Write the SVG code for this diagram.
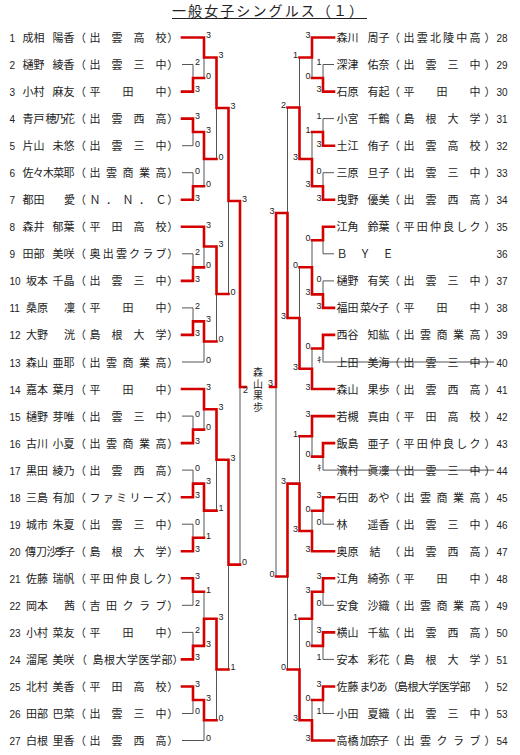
<svg xmlns="http://www.w3.org/2000/svg" width="520" height="755" viewBox="0 0 520 755">
<style>
.t{font-family:"Noto Sans CJK JP","Noto Sans CJK SC",sans-serif;font-size:11px;fill:#222}
.n{font-family:"Liberation Sans",Arial,sans-serif;font-size:10px}
.s{font-family:"Liberation Sans",Arial,sans-serif;font-size:9px;fill:#222}
.e{text-anchor:end}
.r{fill:none;stroke:#d40000;stroke-width:2.6;stroke-linejoin:miter;stroke-linecap:square}
.g{fill:none;stroke:#555;stroke-width:1}
</style>
<rect width="520" height="755" fill="#fff"/>
<g id="title">
<text class="t" x="172" y="16" style="font-size:14px" textLength="191" lengthAdjust="spacing">一般女子シングルス（１）</text>
<line x1="172" y1="18.5" x2="367" y2="18.5" stroke="#222" stroke-width="1"/>
</g>
<g id="connectors">
<path class="g" d="M182 64.5H193V78M182 145.7H193V132M182 172.7H193V186.2M182 253.8H193V267.4M182 307.9H193V321.4M182 362H204V341.5M182 416.1H193V429.6M182 470.1H193V483.6M182 524.2H193V537.7M182 605.3H193V591.8M182 632.4H193V645.9M182 713.5H193V700M182 740.5H204V720.2M204 78V57.5M204 186.2V159M216.5 159V108M204 267.4V246.5M216.5 341.5V294M228.5 294V201M204 429.6V409.3M204 537.7V510.6M216.5 510.6V459.8M204 591.8V618.8M216.5 720.2V669.5M228.5 669.5V564.6M240 564.6V387"/>
<path class="g" d="M334 64.5H323V78M334 118.6H323V132M334 172.7H323V186.2M334 253.8H323V240.3M334 280.9H323V294.4M494 362H323V348.5M494 470.1H323V456.6M334 524.2H323V510.7M334 605.3H323V591.8M334 659.4H323V645.9M334 713.5H323V700M312 78V57.5M312 132V159M299.5 57.5V107.5M312 240.3V267.3M312 348.5V368.7M299.5 267.3V318M287.5 107.5V213M312 456.6V436.3M312 510.7V531M299.5 436.3V483.6M312 645.9V618.8M312 700V720.2M299.5 618.8V669.5M287.5 669.5V576.5M276 576.5V387"/>
<polyline class="r" points="182,37.5 204,37.5 204,57.5 216.5,57.5 216.5,108 228.5,108 228.5,201 240,201 240,387 246,387"/>
<polyline class="r" points="182,91.6 193,91.6 193,78 204,78"/>
<polyline class="r" points="182,118.6 193,118.6 193,132 204,132 204,159 216.5,159"/>
<polyline class="r" points="182,199.7 193,199.7 193,186.2 204,186.2"/>
<polyline class="r" points="182,226.8 204,226.8 204,246.5 216.5,246.5 216.5,294 228.5,294"/>
<polyline class="r" points="182,280.9 193,280.9 193,267.4 204,267.4"/>
<polyline class="r" points="182,334.9 193,334.9 193,321.4 204,321.4 204,341.5 216.5,341.5"/>
<polyline class="r" points="182,389 204,389 204,409.3 216.5,409.3 216.5,459.8 228.5,459.8 228.5,564.6 240,564.6"/>
<polyline class="r" points="182,443.1 193,443.1 193,429.6 204,429.6"/>
<polyline class="r" points="182,497.2 193,497.2 193,483.6 204,483.6 204,510.6 216.5,510.6"/>
<polyline class="r" points="182,551.3 193,551.3 193,537.7 204,537.7"/>
<polyline class="r" points="182,578.3 193,578.3 193,591.8 204,591.8"/>
<polyline class="r" points="182,659.4 193,659.4 193,645.9 204,645.9 204,618.8 216.5,618.8 216.5,669.5 228.5,669.5"/>
<polyline class="r" points="182,686.5 193,686.5 193,700 204,700 204,720.2 216.5,720.2"/>
<polyline class="r" points="334,37.5 312,37.5 312,57.5 299.5,57.5"/>
<polyline class="r" points="334,91.6 323,91.6 323,78 312,78"/>
<polyline class="r" points="334,145.7 323,145.7 323,132 312,132"/>
<polyline class="r" points="334,199.7 323,199.7 323,186.2 312,186.2 312,159 299.5,159 299.5,107.5 287.5,107.5"/>
<polyline class="r" points="334,226.8 323,226.8 323,240.3 312,240.3"/>
<polyline class="r" points="334,307.9 323,307.9 323,294.4 312,294.4 312,267.3 299.5,267.3"/>
<polyline class="r" points="334,334.9 323,334.9 323,348.5 312,348.5"/>
<polyline class="r" points="334,389 312,389 312,368.7 299.5,368.7 299.5,318 287.5,318 287.5,213 276,213 276,387 270,387"/>
<polyline class="r" points="334,416.1 312,416.1 312,436.3 299.5,436.3"/>
<polyline class="r" points="334,443.1 323,443.1 323,456.6 312,456.6"/>
<polyline class="r" points="334,497.2 323,497.2 323,510.7 312,510.7"/>
<polyline class="r" points="334,551.3 312,551.3 312,531 299.5,531 299.5,483.6 287.5,483.6 287.5,576.5 276,576.5"/>
<polyline class="r" points="334,578.3 323,578.3 323,591.8 312,591.8 312,618.8 299.5,618.8"/>
<polyline class="r" points="334,632.4 323,632.4 323,645.9 312,645.9"/>
<polyline class="r" points="334,686.5 323,686.5 323,700 312,700"/>
<polyline class="r" points="334,740.5 312,740.5 312,720.2 299.5,720.2 299.5,669.5 287.5,669.5"/>
</g>
<g id="scores" class="s">
<text x="195" y="65.3">2</text><text x="195" y="92.4">3</text>
<text x="206" y="38.3">3</text><text x="206" y="78.8">0</text>
<text x="195" y="119.4">3</text><text x="195" y="146.5">0</text>
<text x="195" y="173.5">0</text><text x="195" y="200.5">3</text>
<text x="206" y="132.8">3</text><text x="206" y="187">0</text>
<text x="218.5" y="58.3">3</text><text x="218.5" y="159.8">0</text>
<text x="195" y="254.6">2</text><text x="195" y="281.7">3</text>
<text x="206" y="227.6">3</text><text x="206" y="268.2">0</text>
<text x="195" y="308.7">2</text><text x="195" y="335.7">3</text>
<text x="206" y="322.2">3</text><text x="206" y="362.8">0</text>
<text x="218.5" y="247.3">3</text><text x="218.5" y="342.3">0</text>
<text x="230.5" y="108.8">3</text><text x="230.5" y="294.8">0</text>
<text x="195" y="416.9">0</text><text x="195" y="443.9">3</text>
<text x="206" y="389.8">3</text><text x="206" y="430.4">0</text>
<text x="195" y="470.9">0</text><text x="195" y="498">3</text>
<text x="195" y="525">0</text><text x="195" y="552.1">3</text>
<text x="206" y="484.4">3</text><text x="206" y="538.5">1</text>
<text x="218.5" y="410.1">3</text><text x="218.5" y="511.4">1</text>
<text x="195" y="579.1">3</text><text x="195" y="606.1">2</text>
<text x="195" y="633.2">2</text><text x="195" y="660.2">3</text>
<text x="206" y="592.6">1</text><text x="206" y="646.7">3</text>
<text x="195" y="687.3">3</text><text x="195" y="714.3">0</text>
<text x="206" y="700.8">3</text><text x="206" y="741.3">0</text>
<text x="218.5" y="619.6">3</text><text x="218.5" y="721">0</text>
<text x="230.5" y="460.6">3</text><text x="230.5" y="670.3">1</text>
<text x="242" y="201.8">3</text><text x="242" y="565.4">0</text>
<text x="243" y="393">2</text>
<g class="e">
<text x="321.5" y="65.3">1</text><text x="321.5" y="92.4">3</text>
<text x="310.5" y="38.3">3</text><text x="310.5" y="78.8">0</text>
<text x="321.5" y="119.4">1</text><text x="321.5" y="146.5">3</text>
<text x="321.5" y="173.5">0</text><text x="321.5" y="200.5">3</text>
<text x="310.5" y="132.8">1</text><text x="310.5" y="187">3</text>
<text x="298" y="58.3">1</text><text x="298" y="159.8">3</text>
<text x="321.5" y="281.7">0</text><text x="321.5" y="308.7">3</text>
<text x="310.5" y="241.1">0</text><text x="310.5" y="295.2">3</text>
<text x="321.5" y="362.8" class="t" style="font-size:9px">ｷ</text>
<text x="310.5" y="349.3">0</text><text x="310.5" y="389.8">3</text>
<text x="298" y="268.1">0</text><text x="298" y="369.5">3</text>
<text x="286" y="108.3">2</text><text x="286" y="318.8">3</text>
<text x="321.5" y="470.9" class="t" style="font-size:9px">ｷ</text>
<text x="310.5" y="416.9">3</text><text x="310.5" y="457.4">0</text>
<text x="321.5" y="498">3</text><text x="321.5" y="525">0</text>
<text x="310.5" y="511.5">0</text><text x="310.5" y="552.1">3</text>
<text x="298" y="437.1">1</text><text x="298" y="531.8">3</text>
<text x="321.5" y="579.1">3</text><text x="321.5" y="606.1">0</text>
<text x="321.5" y="633.2">3</text><text x="321.5" y="660.2">1</text>
<text x="310.5" y="592.6">3</text><text x="310.5" y="646.7">0</text>
<text x="321.5" y="687.3">3</text><text x="321.5" y="714.3">1</text>
<text x="310.5" y="700.8">0</text><text x="310.5" y="741.3">3</text>
<text x="298" y="619.6">1</text><text x="298" y="721">3</text>
<text x="286" y="484.4">3</text><text x="286" y="670.3">0</text>
<text x="274.5" y="213.8">3</text><text x="274.5" y="577.3">0</text>
<text x="273" y="386">3</text>
</g>
</g>
<g id="champion">
<text class="t" style="font-size:10px" text-anchor="middle" x="258 258 258 258" y="376 387.5 399 410.5">森山果歩</text>
</g>
<g id="left-players">
<g id="p1" transform="translate(0 37.5)"><text class="t" y="4.5"><tspan class="n" x="9.5">1</tspan><tspan x="22.5">成相</tspan><tspan x="52.5">陽香</tspan><tspan x="75">（</tspan><tspan x="167.25">）</tspan></text><text class="t" x="89.5" y="4.5" textLength="77" lengthAdjust="spacing">出雲高校</text></g>
<g id="p2" transform="translate(0 64.5)"><text class="t" y="4.5"><tspan class="n" x="9.5">2</tspan><tspan x="22.5">樋野</tspan><tspan x="52.5">綾香</tspan><tspan x="75">（</tspan><tspan x="167.25">）</tspan></text><text class="t" x="89.5" y="4.5" textLength="77" lengthAdjust="spacing">出雲三中</text></g>
<g id="p3" transform="translate(0 91.6)"><text class="t" y="4.5"><tspan class="n" x="9.5">3</tspan><tspan x="22.5">小村</tspan><tspan x="52.5">麻友</tspan><tspan x="75">（</tspan><tspan x="167.25">）</tspan></text><text class="t" x="89.5" y="4.5" textLength="77" lengthAdjust="spacing">平田中</text></g>
<g id="p4" transform="translate(0 118.6)"><text class="t" y="4.5"><tspan class="n" x="9.5">4</tspan><tspan x="22.5">青戸</tspan><tspan x="75">（</tspan><tspan x="167.25">）</tspan></text><text class="t" x="45.5" y="4.5" textLength="29.5" lengthAdjust="spacing">穂乃花</text><text class="t" x="89.5" y="4.5" textLength="77" lengthAdjust="spacing">出雲西高</text></g>
<g id="p5" transform="translate(0 145.7)"><text class="t" y="4.5"><tspan class="n" x="9.5">5</tspan><tspan x="22.5">片山</tspan><tspan x="52.5">未悠</tspan><tspan x="75">（</tspan><tspan x="167.25">）</tspan></text><text class="t" x="89.5" y="4.5" textLength="77" lengthAdjust="spacing">出雲三中</text></g>
<g id="p6" transform="translate(0 172.7)"><text class="t" y="4.5"><tspan class="n" x="9.5">6</tspan><tspan x="75">（</tspan><tspan x="167.25">）</tspan></text><text class="t" x="22.5" y="4.5" textLength="52" lengthAdjust="spacing">佐々木菜耶</text><text class="t" x="89.5" y="4.5" textLength="77" lengthAdjust="spacing">出雲商業高</text></g>
<g id="p7" transform="translate(0 199.7)"><text class="t" y="4.5"><tspan class="n" x="9.5">7</tspan><tspan x="22.5">都田</tspan><tspan x="64">愛</tspan><tspan x="75">（</tspan><tspan x="167.25">）</tspan></text><text class="t" x="89.5" y="4.5" textLength="77" lengthAdjust="spacing">Ｎ．Ｎ．Ｃ</text></g>
<g id="p8" transform="translate(0 226.8)"><text class="t" y="4.5"><tspan class="n" x="9.5">8</tspan><tspan x="22.5">森井</tspan><tspan x="52.5">郁葉</tspan><tspan x="75">（</tspan><tspan x="167.25">）</tspan></text><text class="t" x="89.5" y="4.5" textLength="77" lengthAdjust="spacing">平田高校</text></g>
<g id="p9" transform="translate(0 253.8)"><text class="t" y="4.5"><tspan class="n" x="9.5">9</tspan><tspan x="22.5">田部</tspan><tspan x="52.5">美咲</tspan><tspan x="75">（</tspan><tspan x="167.25">）</tspan></text><text class="t" x="89.5" y="4.5" textLength="77" lengthAdjust="spacing">奥出雲クラブ</text></g>
<g id="p10" transform="translate(0 280.9)"><text class="t" y="4.5"><tspan class="n" x="9.5">10</tspan><tspan x="26">坂本</tspan><tspan x="52.5">千晶</tspan><tspan x="75">（</tspan><tspan x="167.25">）</tspan></text><text class="t" x="89.5" y="4.5" textLength="77" lengthAdjust="spacing">出雲三中</text></g>
<g id="p11" transform="translate(0 307.9)"><text class="t" y="4.5"><tspan class="n" x="9.5">11</tspan><tspan x="26">桑原</tspan><tspan x="64">凜</tspan><tspan x="75">（</tspan><tspan x="167.25">）</tspan></text><text class="t" x="89.5" y="4.5" textLength="77" lengthAdjust="spacing">平田中</text></g>
<g id="p12" transform="translate(0 334.9)"><text class="t" y="4.5"><tspan class="n" x="9.5">12</tspan><tspan x="26">大野</tspan><tspan x="64">洸</tspan><tspan x="75">（</tspan><tspan x="167.25">）</tspan></text><text class="t" x="89.5" y="4.5" textLength="77" lengthAdjust="spacing">島根大学</text></g>
<g id="p13" transform="translate(0 362)"><text class="t" y="4.5"><tspan class="n" x="9.5">13</tspan><tspan x="26">森山</tspan><tspan x="52.5">亜耶</tspan><tspan x="75">（</tspan><tspan x="167.25">）</tspan></text><text class="t" x="89.5" y="4.5" textLength="77" lengthAdjust="spacing">出雲商業高</text></g>
<g id="p14" transform="translate(0 389)"><text class="t" y="4.5"><tspan class="n" x="9.5">14</tspan><tspan x="26">嘉本</tspan><tspan x="52.5">葉月</tspan><tspan x="75">（</tspan><tspan x="167.25">）</tspan></text><text class="t" x="89.5" y="4.5" textLength="77" lengthAdjust="spacing">平田中</text></g>
<g id="p15" transform="translate(0 416.1)"><text class="t" y="4.5"><tspan class="n" x="9.5">15</tspan><tspan x="26">樋野</tspan><tspan x="52.5">芽唯</tspan><tspan x="75">（</tspan><tspan x="167.25">）</tspan></text><text class="t" x="89.5" y="4.5" textLength="77" lengthAdjust="spacing">出雲三中</text></g>
<g id="p16" transform="translate(0 443.1)"><text class="t" y="4.5"><tspan class="n" x="9.5">16</tspan><tspan x="26">古川</tspan><tspan x="52.5">小夏</tspan><tspan x="75">（</tspan><tspan x="167.25">）</tspan></text><text class="t" x="89.5" y="4.5" textLength="77" lengthAdjust="spacing">出雲商業高</text></g>
<g id="p17" transform="translate(0 470.1)"><text class="t" y="4.5"><tspan class="n" x="9.5">17</tspan><tspan x="26">黒田</tspan><tspan x="52.5">綾乃</tspan><tspan x="75">（</tspan><tspan x="167.25">）</tspan></text><text class="t" x="89.5" y="4.5" textLength="77" lengthAdjust="spacing">出雲西高</text></g>
<g id="p18" transform="translate(0 497.2)"><text class="t" y="4.5"><tspan class="n" x="9.5">18</tspan><tspan x="26">三島</tspan><tspan x="52.5">有加</tspan><tspan x="75">（</tspan><tspan x="167.25">）</tspan></text><text class="t" x="89.5" y="4.5" textLength="77" lengthAdjust="spacing">ファミリーズ</text></g>
<g id="p19" transform="translate(0 524.2)"><text class="t" y="4.5"><tspan class="n" x="9.5">19</tspan><tspan x="26">城市</tspan><tspan x="52.5">朱夏</tspan><tspan x="75">（</tspan><tspan x="167.25">）</tspan></text><text class="t" x="89.5" y="4.5" textLength="77" lengthAdjust="spacing">出雲三中</text></g>
<g id="p20" transform="translate(0 551.3)"><text class="t" y="4.5"><tspan class="n" x="9.5">20</tspan><tspan x="25">傳刀</tspan><tspan x="75">（</tspan><tspan x="167.25">）</tspan></text><text class="t" x="46.5" y="4.5" textLength="28.5" lengthAdjust="spacing">沙季子</text><text class="t" x="89.5" y="4.5" textLength="77" lengthAdjust="spacing">島根大学</text></g>
<g id="p21" transform="translate(0 578.3)"><text class="t" y="4.5"><tspan class="n" x="9.5">21</tspan><tspan x="26">佐藤</tspan><tspan x="52.5">瑞帆</tspan><tspan x="75">（</tspan><tspan x="167.25">）</tspan></text><text class="t" x="89.5" y="4.5" textLength="77" lengthAdjust="spacing">平田仲良しク</text></g>
<g id="p22" transform="translate(0 605.3)"><text class="t" y="4.5"><tspan class="n" x="9.5">22</tspan><tspan x="26">岡本</tspan><tspan x="64">茜</tspan><tspan x="75">（</tspan><tspan x="167.25">）</tspan></text><text class="t" x="89.5" y="4.5" textLength="77" lengthAdjust="spacing">吉田クラブ</text></g>
<g id="p23" transform="translate(0 632.4)"><text class="t" y="4.5"><tspan class="n" x="9.5">23</tspan><tspan x="26">小村</tspan><tspan x="52.5">菜友</tspan><tspan x="75">（</tspan><tspan x="167.25">）</tspan></text><text class="t" x="89.5" y="4.5" textLength="77" lengthAdjust="spacing">平田中</text></g>
<g id="p24" transform="translate(0 659.4)"><text class="t" y="4.5"><tspan class="n" x="9.5">24</tspan><tspan x="26">溜尾</tspan><tspan x="52.5">美咲</tspan><tspan x="76">（</tspan><tspan x="172.5">）</tspan></text><text class="t" x="92.5" y="4.5" textLength="80" lengthAdjust="spacing">島根大学医学部</text></g>
<g id="p25" transform="translate(0 686.5)"><text class="t" y="4.5"><tspan class="n" x="9.5">25</tspan><tspan x="26">北村</tspan><tspan x="52.5">美香</tspan><tspan x="75">（</tspan><tspan x="167.25">）</tspan></text><text class="t" x="89.5" y="4.5" textLength="77" lengthAdjust="spacing">平田高校</text></g>
<g id="p26" transform="translate(0 713.5)"><text class="t" y="4.5"><tspan class="n" x="9.5">26</tspan><tspan x="26">田部</tspan><tspan x="52.5">巴菜</tspan><tspan x="75">（</tspan><tspan x="167.25">）</tspan></text><text class="t" x="89.5" y="4.5" textLength="77" lengthAdjust="spacing">出雲三中</text></g>
<g id="p27" transform="translate(0 740.5)"><text class="t" y="4.5"><tspan class="n" x="9.5">27</tspan><tspan x="26">白根</tspan><tspan x="52.5">里香</tspan><tspan x="75">（</tspan><tspan x="167.25">）</tspan></text><text class="t" x="89.5" y="4.5" textLength="77" lengthAdjust="spacing">出雲西高</text></g>
</g>
<g id="right-players">
<g id="p28" transform="translate(0 37.5)"><text class="t" y="4.5"><tspan x="336.5">森川</tspan><tspan x="367.5">周子</tspan><tspan x="389">（</tspan><tspan x="484.5">）</tspan><tspan class="n" x="496.5">28</tspan></text><text class="t" x="403.5" y="4.5" textLength="77" lengthAdjust="spacing">出雲北陵中高</text></g>
<g id="p29" transform="translate(0 64.5)"><text class="t" y="4.5"><tspan x="336.5">深津</tspan><tspan x="367.5">佑奈</tspan><tspan x="389">（</tspan><tspan x="484.5">）</tspan><tspan class="n" x="496.5">29</tspan></text><text class="t" x="403.5" y="4.5" textLength="77" lengthAdjust="spacing">出雲三中</text></g>
<g id="p30" transform="translate(0 91.6)"><text class="t" y="4.5"><tspan x="336.5">石原</tspan><tspan x="367.5">有起</tspan><tspan x="389">（</tspan><tspan x="484.5">）</tspan><tspan class="n" x="496.5">30</tspan></text><text class="t" x="403.5" y="4.5" textLength="77" lengthAdjust="spacing">平田中</text></g>
<g id="p31" transform="translate(0 118.6)"><text class="t" y="4.5"><tspan x="336.5">小宮</tspan><tspan x="367.5">千鶴</tspan><tspan x="389">（</tspan><tspan x="484.5">）</tspan><tspan class="n" x="496.5">31</tspan></text><text class="t" x="403.5" y="4.5" textLength="77" lengthAdjust="spacing">島根大学</text></g>
<g id="p32" transform="translate(0 145.7)"><text class="t" y="4.5"><tspan x="336.5">土江</tspan><tspan x="367.5">侑子</tspan><tspan x="389">（</tspan><tspan x="484.5">）</tspan><tspan class="n" x="496.5">32</tspan></text><text class="t" x="403.5" y="4.5" textLength="77" lengthAdjust="spacing">出雲高校</text></g>
<g id="p33" transform="translate(0 172.7)"><text class="t" y="4.5"><tspan x="336.5">三原</tspan><tspan x="367.5">旦子</tspan><tspan x="389">（</tspan><tspan x="484.5">）</tspan><tspan class="n" x="496.5">33</tspan></text><text class="t" x="403.5" y="4.5" textLength="77" lengthAdjust="spacing">出雲三中</text></g>
<g id="p34" transform="translate(0 199.7)"><text class="t" y="4.5"><tspan x="336.5">曳野</tspan><tspan x="367.5">優美</tspan><tspan x="389">（</tspan><tspan x="484.5">）</tspan><tspan class="n" x="496.5">34</tspan></text><text class="t" x="403.5" y="4.5" textLength="77" lengthAdjust="spacing">出雲西高</text></g>
<g id="p35" transform="translate(0 226.8)"><text class="t" y="4.5"><tspan x="336.5">江角</tspan><tspan x="367.5">鈴葉</tspan><tspan x="389">（</tspan><tspan x="484.5">）</tspan><tspan class="n" x="496.5">35</tspan></text><text class="t" x="403.5" y="4.5" textLength="77" lengthAdjust="spacing">平田仲良しク</text></g>
<g id="p36" transform="translate(0 253.8)"><text class="t" x="336.5" y="4.5" textLength="57" lengthAdjust="spacing">ＢＹＥ</text><text class="t" y="4.5"><tspan class="n" x="496.5">36</tspan></text></g>
<g id="p37" transform="translate(0 280.9)"><text class="t" y="4.5"><tspan x="336.5">樋野</tspan><tspan x="367.5">有笑</tspan><tspan x="389">（</tspan><tspan x="484.5">）</tspan><tspan class="n" x="496.5">37</tspan></text><text class="t" x="403.5" y="4.5" textLength="77" lengthAdjust="spacing">出雲三中</text></g>
<g id="p38" transform="translate(0 307.9)"><text class="t" y="4.5"><tspan x="336.5">福田</tspan><tspan x="389">（</tspan><tspan x="484.5">）</tspan><tspan class="n" x="496.5">38</tspan></text><text class="t" x="360" y="4.5" textLength="29" lengthAdjust="spacing">菜々子</text><text class="t" x="403.5" y="4.5" textLength="77" lengthAdjust="spacing">平田中</text></g>
<g id="p39" transform="translate(0 334.9)"><text class="t" y="4.5"><tspan x="336.5">西谷</tspan><tspan x="367.5">知紘</tspan><tspan x="389">（</tspan><tspan x="484.5">）</tspan><tspan class="n" x="496.5">39</tspan></text><text class="t" x="403.5" y="4.5" textLength="77" lengthAdjust="spacing">出雲商業高</text></g>
<g id="p40" transform="translate(0 362)"><text class="t" y="4.5"><tspan x="336.5">上田</tspan><tspan x="367.5">美海</tspan><tspan x="389">（</tspan><tspan x="484.5">）</tspan><tspan class="n" x="496.5">40</tspan></text><text class="t" x="403.5" y="4.5" textLength="77" lengthAdjust="spacing">出雲三中</text></g>
<g id="p41" transform="translate(0 389)"><text class="t" y="4.5"><tspan x="336.5">森山</tspan><tspan x="367.5">果歩</tspan><tspan x="389">（</tspan><tspan x="484.5">）</tspan><tspan class="n" x="496.5">41</tspan></text><text class="t" x="403.5" y="4.5" textLength="77" lengthAdjust="spacing">出雲西高</text></g>
<g id="p42" transform="translate(0 416.1)"><text class="t" y="4.5"><tspan x="336.5">若槻</tspan><tspan x="367.5">真由</tspan><tspan x="389">（</tspan><tspan x="484.5">）</tspan><tspan class="n" x="496.5">42</tspan></text><text class="t" x="403.5" y="4.5" textLength="77" lengthAdjust="spacing">平田高校</text></g>
<g id="p43" transform="translate(0 443.1)"><text class="t" y="4.5"><tspan x="336.5">飯島</tspan><tspan x="367.5">亜子</tspan><tspan x="389">（</tspan><tspan x="484.5">）</tspan><tspan class="n" x="496.5">43</tspan></text><text class="t" x="403.5" y="4.5" textLength="77" lengthAdjust="spacing">平田仲良しク</text></g>
<g id="p44" transform="translate(0 470.1)"><text class="t" y="4.5"><tspan x="336.5">濱村</tspan><tspan x="367.5">眞凜</tspan><tspan x="389">（</tspan><tspan x="484.5">）</tspan><tspan class="n" x="496.5">44</tspan></text><text class="t" x="403.5" y="4.5" textLength="77" lengthAdjust="spacing">出雲三中</text></g>
<g id="p45" transform="translate(0 497.2)"><text class="t" y="4.5"><tspan x="336.5">石田</tspan><tspan x="367.5">あや</tspan><tspan x="389">（</tspan><tspan x="484.5">）</tspan><tspan class="n" x="496.5">45</tspan></text><text class="t" x="403.5" y="4.5" textLength="77" lengthAdjust="spacing">出雲商業高</text></g>
<g id="p46" transform="translate(0 524.2)"><text class="t" y="4.5"><tspan x="336.5">林</tspan><tspan x="367.5">遥香</tspan><tspan x="389">（</tspan><tspan x="484.5">）</tspan><tspan class="n" x="496.5">46</tspan></text><text class="t" x="403.5" y="4.5" textLength="77" lengthAdjust="spacing">出雲三中</text></g>
<g id="p47" transform="translate(0 551.3)"><text class="t" y="4.5"><tspan x="336.5">奥原</tspan><tspan x="369.5">結</tspan><tspan x="389">（</tspan><tspan x="484.5">）</tspan><tspan class="n" x="496.5">47</tspan></text><text class="t" x="403.5" y="4.5" textLength="77" lengthAdjust="spacing">出雲西高</text></g>
<g id="p48" transform="translate(0 578.3)"><text class="t" y="4.5"><tspan x="336.5">江角</tspan><tspan x="367.5">綺弥</tspan><tspan x="389">（</tspan><tspan x="484.5">）</tspan><tspan class="n" x="496.5">48</tspan></text><text class="t" x="403.5" y="4.5" textLength="77" lengthAdjust="spacing">平田中</text></g>
<g id="p49" transform="translate(0 605.3)"><text class="t" y="4.5"><tspan x="336.5">安食</tspan><tspan x="367.5">沙織</tspan><tspan x="389">（</tspan><tspan x="484.5">）</tspan><tspan class="n" x="496.5">49</tspan></text><text class="t" x="403.5" y="4.5" textLength="77" lengthAdjust="spacing">出雲商業高</text></g>
<g id="p50" transform="translate(0 632.4)"><text class="t" y="4.5"><tspan x="336.5">横山</tspan><tspan x="367.5">千紘</tspan><tspan x="389">（</tspan><tspan x="484.5">）</tspan><tspan class="n" x="496.5">50</tspan></text><text class="t" x="403.5" y="4.5" textLength="77" lengthAdjust="spacing">出雲西高</text></g>
<g id="p51" transform="translate(0 659.4)"><text class="t" y="4.5"><tspan x="336.5">安本</tspan><tspan x="367.5">彩花</tspan><tspan x="389">（</tspan><tspan x="484.5">）</tspan><tspan class="n" x="496.5">51</tspan></text><text class="t" x="403.5" y="4.5" textLength="77" lengthAdjust="spacing">島根大学</text></g>
<g id="p52" transform="translate(0 686.5)"><text class="t" y="4.5"><tspan x="336.5">佐藤</tspan><tspan x="387.5">（</tspan><tspan x="484.5">）</tspan><tspan class="n" x="496.5">52</tspan></text><text class="t" x="359.5" y="4.5" textLength="28" lengthAdjust="spacing">まりあ</text><text class="t" x="397" y="4.5" textLength="73.5" lengthAdjust="spacing">島根大学医学部</text></g>
<g id="p53" transform="translate(0 713.5)"><text class="t" y="4.5"><tspan x="336.5">小田</tspan><tspan x="367.5">夏織</tspan><tspan x="389">（</tspan><tspan x="484.5">）</tspan><tspan class="n" x="496.5">53</tspan></text><text class="t" x="403.5" y="4.5" textLength="77" lengthAdjust="spacing">出雲三中</text></g>
<g id="p54" transform="translate(0 740.5)"><text class="t" y="4.5"><tspan x="336.5">高橋</tspan><tspan x="389">（</tspan><tspan x="484.5">）</tspan><tspan class="n" x="496.5">54</tspan></text><text class="t" x="360" y="4.5" textLength="29" lengthAdjust="spacing">加奈子</text><text class="t" x="403.5" y="4.5" textLength="77" lengthAdjust="spacing">出雲クラブ</text></g>
</g>
</svg>
